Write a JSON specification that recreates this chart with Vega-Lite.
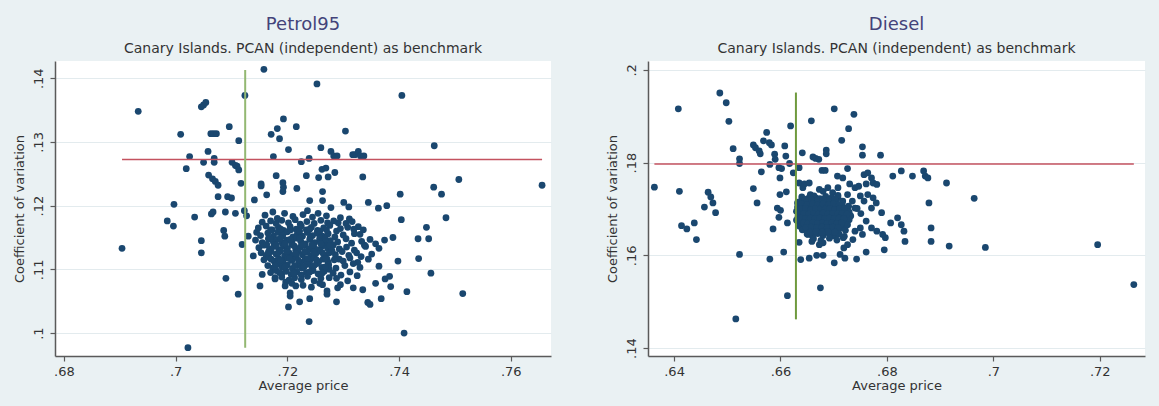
{
  "$schema": "https://vega.github.io/schema/vega-lite/v6.json",
  "background": "#eaf1f3",
  "padding": {"left": 13, "top": 16, "right": 14, "bottom": 14},
  "spacing": 55,
  "config": {
    "view": {"fill": "white", "stroke": null},
    "font": "DejaVu Sans",
    "axis": {"domainColor": "#5a5a5a", "domainWidth": 1.5, "tickColor": "#5a5a5a", "tickSize": 5, "tickWidth": 1.2,
      "labelFont": "DejaVu Sans", "labelFontSize": 13, "labelColor": "#333333", "titleFont": "DejaVu Sans", "titleFontSize": 13,
      "titleFontWeight": "normal", "titleColor": "#333333", "gridColor": "#e3ebee", "gridWidth": 1, "format": "~g", "labelExpr": "substring(datum.label, 1)"},
    "axisX": {"grid": false, "labelPadding": 4, "titlePadding": 1},
    "axisY": {"grid": true, "labelAngle": 270, "labelPadding": 5, "titlePadding": 6},
    "title": {"font": "DejaVu Sans", "fontSize": 18, "fontWeight": "normal", "color": "#43437a", "subtitleFont": "DejaVu Sans", "subtitleFontSize": 14, "subtitleColor": "#333333", "subtitlePadding": 8, "offset": 5, "anchor": "middle"}
  },
  "datasets": {
    "petrol": [
      {"x":0.6904,"y":0.1133},{"x":0.6933,"y":0.1348},{"x":0.6985,"y":0.1176},{"x":0.6997,"y":0.1202},{"x":0.6996,"y":0.1168},{"x":0.7009,"y":0.1312},{"x":0.7019,"y":0.1258},{"x":0.7025,"y":0.1277},{"x":0.7022,"y":0.0977},{"x":0.7034,"y":0.1182},{"x":0.7046,"y":0.1355},{"x":0.7050,"y":0.1358},{"x":0.7054,"y":0.1362},{"x":0.7046,"y":0.1145},{"x":0.7046,"y":0.1126},{"x":0.7050,"y":0.1268},{"x":0.7058,"y":0.1285},{"x":0.7063,"y":0.1313},{"x":0.7068,"y":0.1313},{"x":0.7073,"y":0.1313},{"x":0.7059,"y":0.1248},{"x":0.7069,"y":0.1274},{"x":0.7069,"y":0.1268},{"x":0.7066,"y":0.1242},{"x":0.7071,"y":0.1238},{"x":0.7076,"y":0.1232},{"x":0.7076,"y":0.1214},{"x":0.7064,"y":0.1187},{"x":0.7067,"y":0.1190},{"x":0.7096,"y":0.1324},{"x":0.7093,"y":0.1214},{"x":0.7100,"y":0.1212},{"x":0.7089,"y":0.1190},{"x":0.7086,"y":0.1161},{"x":0.7088,"y":0.1152},{"x":0.7090,"y":0.1086},{"x":0.7113,"y":0.1302},{"x":0.7101,"y":0.1268},{"x":0.7107,"y":0.1263},{"x":0.7110,"y":0.1262},{"x":0.7113,"y":0.1256},{"x":0.7107,"y":0.1188},{"x":0.7117,"y":0.1235},{"x":0.7112,"y":0.1061},{"x":0.7119,"y":0.1139},{"x":0.7123,"y":0.1192},{"x":0.7127,"y":0.1184},{"x":0.7130,"y":0.1152},{"x":0.7124,"y":0.1373},
      {"x":0.7193,"y":0.1336},{"x":0.7182,"y":0.1321},{"x":0.7171,"y":0.1312},{"x":0.7186,"y":0.1305},{"x":0.7216,"y":0.1324},{"x":0.7202,"y":0.1288},{"x":0.7175,"y":0.1277},{"x":0.7225,"y":0.1269},{"x":0.7260,"y":0.1291},{"x":0.7239,"y":0.1274},{"x":0.7278,"y":0.1285},{"x":0.7283,"y":0.1278},{"x":0.7289,"y":0.1278},{"x":0.7304,"y":0.1317},{"x":0.7317,"y":0.1280},{"x":0.7321,"y":0.1280},{"x":0.7327,"y":0.1285},{"x":0.7331,"y":0.1278},{"x":0.7337,"y":0.1278},{"x":0.7234,"y":0.1247},{"x":0.7256,"y":0.1244},{"x":0.7262,"y":0.1257},{"x":0.7269,"y":0.1259},{"x":0.7273,"y":0.1245},{"x":0.7285,"y":0.1252},{"x":0.7180,"y":0.1247},{"x":0.7192,"y":0.1236},{"x":0.7193,"y":0.1229},{"x":0.7192,"y":0.1222},{"x":0.7217,"y":0.1227},{"x":0.7153,"y":0.1234},{"x":0.7153,"y":0.1231},{"x":0.7163,"y":0.1217},{"x":0.7141,"y":0.1209},{"x":0.7263,"y":0.1222},{"x":0.7335,"y":0.1245},{"x":0.7263,"y":0.1208},{"x":0.7240,"y":0.1208},{"x":0.7278,"y":0.1197},{"x":0.7301,"y":0.1205},{"x":0.7310,"y":0.1198},{"x":0.7345,"y":0.1205},{"x":0.7363,"y":0.1196},{"x":0.7378,"y":0.1200},{"x":0.7402,"y":0.1218},{"x":0.7462,"y":0.1229},{"x":0.7476,"y":0.1218},{"x":0.7484,"y":0.1181},{"x":0.7507,"y":0.1241},{"x":0.7463,"y":0.1294},{"x":0.7404,"y":0.1178},{"x":0.7449,"y":0.1166},{"x":0.7434,"y":0.1148},{"x":0.7453,"y":0.1148},{"x":0.7389,"y":0.1150},{"x":0.7374,"y":0.1146},{"x":0.7435,"y":0.1117},{"x":0.7398,"y":0.1113},{"x":0.7457,"y":0.1094},{"x":0.7383,"y":0.1089},{"x":0.7375,"y":0.1085},{"x":0.7385,"y":0.1073},{"x":0.7368,"y":0.1054},{"x":0.7344,"y":0.1048},{"x":0.7348,"y":0.1045},{"x":0.7335,"y":0.1068},{"x":0.7318,"y":0.1071},{"x":0.7358,"y":0.1078},{"x":0.7364,"y":0.1105},{"x":0.7351,"y":0.1124},{"x":0.7338,"y":0.1138},{"x":0.7348,"y":0.1147},{"x":0.7330,"y":0.1155},{"x":0.7311,"y":0.1179},{"x":0.7308,"y":0.1166},{"x":0.7327,"y":0.1167},{"x":0.7291,"y":0.1173},{"x":0.7288,"y":0.1160},{"x":0.7293,"y":0.1116},{"x":0.7271,"y":0.1116},{"x":0.7275,"y":0.1087},{"x":0.7275,"y":0.1100},{"x":0.7258,"y":0.1078},{"x":0.7271,"y":0.1066},{"x":0.7271,"y":0.1061},{"x":0.7288,"y":0.1049},{"x":0.7290,"y":0.1071},{"x":0.7222,"y":0.1049},{"x":0.7240,"y":0.1054},{"x":0.7202,"y":0.1041},{"x":0.7205,"y":0.1058},{"x":0.7205,"y":0.1063},{"x":0.7215,"y":0.1074},{"x":0.7197,"y":0.1080},{"x":0.7178,"y":0.1087},{"x":0.7151,"y":0.1074},{"x":0.7155,"y":0.1092},{"x":0.7139,"y":0.1121},{"x":0.7145,"y":0.1158},{"x":0.7514,"y":0.1062},{"x":0.7414,"y":0.1065},{"x":0.7239,"y":0.1018},{"x":0.7409,"y":0.1000},{"x":0.7656,"y":0.1232},{"x":0.7158,"y":0.1414},{"x":0.7253,"y":0.1391},{"x":0.7405,"y":0.1373},
      {"x":0.7160,"y":0.1185},{"x":0.7182,"y":0.1180},{"x":0.7195,"y":0.1188},{"x":0.7210,"y":0.1183},{"x":0.7228,"y":0.1186},{"x":0.7245,"y":0.1182},{"x":0.7255,"y":0.1188},{"x":0.7270,"y":0.1184},{"x":0.7295,"y":0.1181},{"x":0.7174,"y":0.1190},{"x":0.7236,"y":0.1192},
      {"x":0.7155,"y":0.1174},{"x":0.7170,"y":0.1176},{"x":0.7180,"y":0.1172},{"x":0.7190,"y":0.1177},{"x":0.7202,"y":0.1173},{"x":0.7214,"y":0.1178},{"x":0.7223,"y":0.1171},{"x":0.7235,"y":0.1175},{"x":0.7248,"y":0.1172},{"x":0.7260,"y":0.1177},{"x":0.7272,"y":0.1173},{"x":0.7283,"y":0.1176},{"x":0.7305,"y":0.1172},{"x":0.7316,"y":0.1175},
      {"x":0.7148,"y":0.1165},{"x":0.7162,"y":0.1168},{"x":0.7173,"y":0.1162},{"x":0.7184,"y":0.1166},{"x":0.7193,"y":0.1161},{"x":0.7205,"y":0.1167},{"x":0.7216,"y":0.1163},{"x":0.7225,"y":0.1168},{"x":0.7234,"y":0.1162},{"x":0.7243,"y":0.1166},{"x":0.7254,"y":0.1161},{"x":0.7265,"y":0.1165},{"x":0.7276,"y":0.1169},{"x":0.7295,"y":0.1164},{"x":0.7319,"y":0.1163},{"x":0.7336,"y":0.1162},
      {"x":0.7152,"y":0.1153},{"x":0.7165,"y":0.1157},{"x":0.7175,"y":0.1152},{"x":0.7183,"y":0.1158},{"x":0.7192,"y":0.1154},{"x":0.7200,"y":0.1159},{"x":0.7210,"y":0.1151},{"x":0.7218,"y":0.1156},{"x":0.7227,"y":0.1152},{"x":0.7236,"y":0.1158},{"x":0.7245,"y":0.1153},{"x":0.7253,"y":0.1157},{"x":0.7263,"y":0.1152},{"x":0.7273,"y":0.1156},{"x":0.7285,"y":0.1151},{"x":0.7300,"y":0.1154},{"x":0.7320,"y":0.1156},
      {"x":0.7143,"y":0.1146},{"x":0.7155,"y":0.1142},{"x":0.7166,"y":0.1148},{"x":0.7175,"y":0.1143},{"x":0.7184,"y":0.1147},{"x":0.7191,"y":0.1141},{"x":0.7199,"y":0.1146},{"x":0.7208,"y":0.1142},{"x":0.7216,"y":0.1149},{"x":0.7224,"y":0.1144},{"x":0.7232,"y":0.1140},{"x":0.7240,"y":0.1147},{"x":0.7249,"y":0.1142},{"x":0.7258,"y":0.1146},{"x":0.7267,"y":0.1141},{"x":0.7277,"y":0.1145},{"x":0.7290,"y":0.1143},{"x":0.7305,"y":0.1148},{"x":0.7315,"y":0.1141},{"x":0.7333,"y":0.1144},{"x":0.7358,"y":0.1140},
      {"x":0.7149,"y":0.1134},{"x":0.7158,"y":0.1138},{"x":0.7168,"y":0.1132},{"x":0.7176,"y":0.1136},{"x":0.7185,"y":0.1131},{"x":0.7193,"y":0.1137},{"x":0.7200,"y":0.1133},{"x":0.7208,"y":0.1139},{"x":0.7215,"y":0.1130},{"x":0.7223,"y":0.1135},{"x":0.7231,"y":0.1138},{"x":0.7239,"y":0.1132},{"x":0.7247,"y":0.1136},{"x":0.7255,"y":0.1131},{"x":0.7263,"y":0.1137},{"x":0.7272,"y":0.1133},{"x":0.7282,"y":0.1138},{"x":0.7293,"y":0.1132},{"x":0.7306,"y":0.1135},{"x":0.7320,"y":0.1130},{"x":0.7340,"y":0.1136},{"x":0.7364,"y":0.1133},
      {"x":0.7153,"y":0.1126},{"x":0.7162,"y":0.1122},{"x":0.7171,"y":0.1128},{"x":0.7180,"y":0.1124},{"x":0.7188,"y":0.1129},{"x":0.7195,"y":0.1121},{"x":0.7203,"y":0.1126},{"x":0.7211,"y":0.1122},{"x":0.7219,"y":0.1128},{"x":0.7227,"y":0.1123},{"x":0.7235,"y":0.1127},{"x":0.7243,"y":0.1121},{"x":0.7251,"y":0.1125},{"x":0.7259,"y":0.1129},{"x":0.7267,"y":0.1122},{"x":0.7275,"y":0.1126},{"x":0.7286,"y":0.1123},{"x":0.7298,"y":0.1128},{"x":0.7310,"y":0.1122},{"x":0.7324,"y":0.1126},{"x":0.7332,"y":0.1120},
      {"x":0.7158,"y":0.1115},{"x":0.7167,"y":0.1119},{"x":0.7176,"y":0.1113},{"x":0.7184,"y":0.1117},{"x":0.7192,"y":0.1112},{"x":0.7200,"y":0.1118},{"x":0.7208,"y":0.1114},{"x":0.7216,"y":0.1119},{"x":0.7224,"y":0.1111},{"x":0.7232,"y":0.1116},{"x":0.7240,"y":0.1113},{"x":0.7248,"y":0.1118},{"x":0.7256,"y":0.1112},{"x":0.7264,"y":0.1116},{"x":0.7273,"y":0.1111},{"x":0.7284,"y":0.1115},{"x":0.7300,"y":0.1113},{"x":0.7312,"y":0.1118},{"x":0.7326,"y":0.1111},{"x":0.7345,"y":0.1116},
      {"x":0.7165,"y":0.1106},{"x":0.7174,"y":0.1102},{"x":0.7183,"y":0.1108},{"x":0.7191,"y":0.1103},{"x":0.7200,"y":0.1107},{"x":0.7209,"y":0.1101},{"x":0.7218,"y":0.1106},{"x":0.7226,"y":0.1102},{"x":0.7235,"y":0.1108},{"x":0.7244,"y":0.1104},{"x":0.7253,"y":0.1109},{"x":0.7262,"y":0.1103},{"x":0.7274,"y":0.1107},{"x":0.7287,"y":0.1102},{"x":0.7303,"y":0.1106},{"x":0.7318,"y":0.1109},{"x":0.7330,"y":0.1103},
      {"x":0.7170,"y":0.1095},{"x":0.7180,"y":0.1098},{"x":0.7190,"y":0.1093},{"x":0.7198,"y":0.1097},{"x":0.7207,"y":0.1092},{"x":0.7217,"y":0.1096},{"x":0.7225,"y":0.1091},{"x":0.7234,"y":0.1095},{"x":0.7246,"y":0.1098},{"x":0.7255,"y":0.1093},{"x":0.7266,"y":0.1097},{"x":0.7282,"y":0.1094},{"x":0.7296,"y":0.1091},{"x":0.7312,"y":0.1096},{"x":0.7325,"y":0.1090},
      {"x":0.7178,"y":0.1085},{"x":0.7190,"y":0.1088},{"x":0.7203,"y":0.1083},{"x":0.7213,"y":0.1087},{"x":0.7225,"y":0.1084},{"x":0.7236,"y":0.1089},{"x":0.7248,"y":0.1082},{"x":0.7260,"y":0.1086},{"x":0.7288,"y":0.1086},{"x":0.7308,"y":0.1082},
      {"x":0.7196,"y":0.1074},{"x":0.7208,"y":0.1078},{"x":0.7228,"y":0.1075},{"x":0.7243,"y":0.1072},{"x":0.7263,"y":0.1076},{"x":0.7295,"y":0.1076},
      {"x":0.7170,"y":0.1162},{"x":0.7188,"y":0.1163},{"x":0.7206,"y":0.1162},{"x":0.7222,"y":0.1160},{"x":0.7240,"y":0.1163},{"x":0.7258,"y":0.1160},{"x":0.7270,"y":0.1162},
      {"x":0.7170,"y":0.1148},{"x":0.7188,"y":0.1149},{"x":0.7205,"y":0.1147},{"x":0.7222,"y":0.1149},{"x":0.7241,"y":0.1150},{"x":0.7258,"y":0.1149},{"x":0.7268,"y":0.1148},
      {"x":0.7163,"y":0.1139},{"x":0.7180,"y":0.1138},{"x":0.7196,"y":0.1140},{"x":0.7212,"y":0.1137},{"x":0.7228,"y":0.1139},{"x":0.7244,"y":0.1138},{"x":0.7260,"y":0.1140},{"x":0.7276,"y":0.1137},
      {"x":0.7166,"y":0.1127},{"x":0.7184,"y":0.1126},{"x":0.7199,"y":0.1128},{"x":0.7215,"y":0.1125},{"x":0.7231,"y":0.1128},{"x":0.7247,"y":0.1127},{"x":0.7263,"y":0.1126},{"x":0.7280,"y":0.1129},
      {"x":0.7171,"y":0.1116},{"x":0.7188,"y":0.1115},{"x":0.7204,"y":0.1117},{"x":0.7220,"y":0.1114},{"x":0.7236,"y":0.1117},{"x":0.7252,"y":0.1115},{"x":0.7268,"y":0.1117},
      {"x":0.7178,"y":0.1105},{"x":0.7196,"y":0.1104},{"x":0.7213,"y":0.1106},{"x":0.7230,"y":0.1104},{"x":0.7248,"y":0.1106},{"x":0.7268,"y":0.1104},
      {"x":0.7186,"y":0.1095},{"x":0.7212,"y":0.1094},{"x":0.7240,"y":0.1096},{"x":0.7262,"y":0.1094}
    ],
    "petrolH": [{"x":0.6904,"x2":0.7656,"y":0.12725}],
    "petrolV": [{"x":0.71245,"y":0.0977,"y2":0.1413}],
    "diesel": [
      {"x":0.6363,"y":0.1747},{"x":0.6408,"y":0.1916},{"x":0.6410,"y":0.1738},{"x":0.6414,"y":0.1664},{"x":0.6424,"y":0.1657},{"x":0.6438,"y":0.1670},{"x":0.6442,"y":0.1634},{"x":0.6457,"y":0.1704},{"x":0.6464,"y":0.1736},{"x":0.6469,"y":0.1726},{"x":0.6473,"y":0.1713},{"x":0.6478,"y":0.1692},{"x":0.6486,"y":0.1950},{"x":0.6498,"y":0.1929},{"x":0.6503,"y":0.1889},{"x":0.6511,"y":0.1830},{"x":0.6523,"y":0.1808},{"x":0.6523,"y":0.1798},{"x":0.6516,"y":0.1463},{"x":0.6523,"y":0.1602},{"x":0.6549,"y":0.1838},{"x":0.6553,"y":0.1832},{"x":0.6549,"y":0.1744},{"x":0.6556,"y":0.1713},{"x":0.6560,"y":0.1825},{"x":0.6562,"y":0.1819},{"x":0.6564,"y":0.1780},{"x":0.6568,"y":0.1847},{"x":0.6574,"y":0.1865},{"x":0.6583,"y":0.1838},{"x":0.6579,"y":0.1843},{"x":0.6580,"y":0.1796},{"x":0.6586,"y":0.1657},{"x":0.6580,"y":0.1592},{"x":0.6589,"y":0.1818},{"x":0.6590,"y":0.1807},{"x":0.6597,"y":0.1789},{"x":0.6602,"y":0.1787},{"x":0.6599,"y":0.1767},{"x":0.6594,"y":0.1702},{"x":0.6600,"y":0.1697},{"x":0.6597,"y":0.1682},{"x":0.6599,"y":0.1731},{"x":0.6608,"y":0.1836},{"x":0.6610,"y":0.1814},{"x":0.6606,"y":0.1607},{"x":0.6611,"y":0.1737},{"x":0.6613,"y":0.1670},{"x":0.6613,"y":0.1513},{"x":0.6617,"y":0.1798},{"x":0.6619,"y":0.1879},{"x":0.6624,"y":0.1778},{"x":0.6635,"y":0.1789},{"x":0.6632,"y":0.1713},{"x":0.6635,"y":0.1628},{"x":0.6638,"y":0.1591},{"x":0.6641,"y":0.1821},{"x":0.6635,"y":0.1756},{"x":0.6642,"y":0.1746},{"x":0.6645,"y":0.1754},{"x":0.6654,"y":0.1756},{"x":0.6658,"y":0.1890},{"x":0.6654,"y":0.1594},{"x":0.6661,"y":0.1812},{"x":0.6666,"y":0.1809},{"x":0.6672,"y":0.1807},{"x":0.6675,"y":0.1530},{"x":0.6668,"y":0.1600},{"x":0.6680,"y":0.1600},{"x":0.6678,"y":0.1783},{"x":0.6684,"y":0.1783},{"x":0.6686,"y":0.1827},{"x":0.6686,"y":0.1819},{"x":0.6701,"y":0.1916},{"x":0.6715,"y":0.1848},{"x":0.6728,"y":0.1873},{"x":0.6738,"y":0.1904},{"x":0.6726,"y":0.1787},{"x":0.6707,"y":0.1771},{"x":0.6717,"y":0.1767},{"x":0.6730,"y":0.1754},{"x":0.6740,"y":0.1746},{"x":0.6747,"y":0.1749},{"x":0.6754,"y":0.1834},{"x":0.6754,"y":0.1816},{"x":0.6757,"y":0.1774},{"x":0.6764,"y":0.1778},{"x":0.6771,"y":0.1767},{"x":0.6761,"y":0.1754},{"x":0.6774,"y":0.1756},{"x":0.6781,"y":0.1753},{"x":0.6750,"y":0.1728},{"x":0.6764,"y":0.1731},{"x":0.6774,"y":0.1724},{"x":0.6757,"y":0.1717},{"x":0.6780,"y":0.1713},{"x":0.6771,"y":0.1702},{"x":0.6790,"y":0.1692},{"x":0.6744,"y":0.1701},{"x":0.6751,"y":0.1690},{"x":0.6788,"y":0.1816},{"x":0.6811,"y":0.1771},{"x":0.6827,"y":0.1782},{"x":0.6848,"y":0.1771},{"x":0.6869,"y":0.1782},{"x":0.6872,"y":0.1771},{"x":0.6877,"y":0.1767},{"x":0.6912,"y":0.1756},{"x":0.6964,"y":0.1723},{"x":0.6879,"y":0.1713},{"x":0.6807,"y":0.1670},{"x":0.6820,"y":0.1681},{"x":0.6827,"y":0.1666},{"x":0.6832,"y":0.1652},{"x":0.6834,"y":0.1630},{"x":0.6883,"y":0.1659},{"x":0.6883,"y":0.1630},{"x":0.6917,"y":0.1620},{"x":0.6985,"y":0.1617},{"x":0.7196,"y":0.1623},{"x":0.7264,"y":0.1537},{"x":0.6795,"y":0.1612},{"x":0.6797,"y":0.1638},{"x":0.6792,"y":0.1645},{"x":0.6781,"y":0.1652},{"x":0.6771,"y":0.1659},{"x":0.6761,"y":0.1607},{"x":0.6743,"y":0.1592},{"x":0.6721,"y":0.1594},{"x":0.6701,"y":0.1584},{"x":0.6712,"y":0.1602},{"x":0.6726,"y":0.1623},{"x":0.6719,"y":0.1616},{"x":0.6736,"y":0.1634},{"x":0.6750,"y":0.1659},{"x":0.6761,"y":0.1674},{"x":0.6754,"y":0.1645},{"x":0.6740,"y":0.1652},{"x":0.6632,"y":0.1674},{"x":0.6638,"y":0.1666},{"x":0.6652,"y":0.1645},{"x":0.6659,"y":0.1630},{"x":0.6673,"y":0.1623},{"x":0.6680,"y":0.1627},{"x":0.6673,"y":0.1742},{"x":0.6680,"y":0.1738},{"x":0.6689,"y":0.1746},{"x":0.6698,"y":0.1735},{"x":0.6708,"y":0.1746},{"x":0.6708,"y":0.1724},{"x":0.6717,"y":0.1717},{"x":0.6726,"y":0.1731},{"x":0.6735,"y":0.1717},{"x":0.6740,"y":0.1702},{"x":0.6728,"y":0.1706},{"x":0.6649,"y":0.1720},{"x":0.6656,"y":0.1731},{"x":0.6666,"y":0.1724},
      {"x":0.6640,"y":0.1726},{"x":0.6652,"y":0.1723},{"x":0.6663,"y":0.1728},{"x":0.6674,"y":0.1722},{"x":0.6685,"y":0.1727},{"x":0.6696,"y":0.1724},{"x":0.6708,"y":0.1729},
      {"x":0.6635,"y":0.1715},{"x":0.6645,"y":0.1718},{"x":0.6655,"y":0.1712},{"x":0.6665,"y":0.1717},{"x":0.6675,"y":0.1713},{"x":0.6685,"y":0.1718},{"x":0.6695,"y":0.1712},{"x":0.6705,"y":0.1716},{"x":0.6716,"y":0.1711},
      {"x":0.6632,"y":0.1704},{"x":0.6642,"y":0.1708},{"x":0.6652,"y":0.1703},{"x":0.6661,"y":0.1707},{"x":0.6670,"y":0.1702},{"x":0.6679,"y":0.1708},{"x":0.6688,"y":0.1704},{"x":0.6697,"y":0.1709},{"x":0.6706,"y":0.1703},{"x":0.6715,"y":0.1707},{"x":0.6725,"y":0.1702},
      {"x":0.6630,"y":0.1695},{"x":0.6639,"y":0.1691},{"x":0.6648,"y":0.1696},{"x":0.6657,"y":0.1692},{"x":0.6666,"y":0.1698},{"x":0.6674,"y":0.1693},{"x":0.6683,"y":0.1697},{"x":0.6692,"y":0.1691},{"x":0.6701,"y":0.1695},{"x":0.6710,"y":0.1692},{"x":0.6719,"y":0.1697},{"x":0.6729,"y":0.1693},
      {"x":0.6633,"y":0.1684},{"x":0.6642,"y":0.1688},{"x":0.6651,"y":0.1682},{"x":0.6660,"y":0.1686},{"x":0.6669,"y":0.1681},{"x":0.6678,"y":0.1687},{"x":0.6687,"y":0.1683},{"x":0.6696,"y":0.1688},{"x":0.6705,"y":0.1682},{"x":0.6714,"y":0.1686},{"x":0.6723,"y":0.1681},{"x":0.6732,"y":0.1685},
      {"x":0.6630,"y":0.1676},{"x":0.6639,"y":0.1672},{"x":0.6648,"y":0.1677},{"x":0.6657,"y":0.1673},{"x":0.6666,"y":0.1678},{"x":0.6675,"y":0.1672},{"x":0.6684,"y":0.1676},{"x":0.6693,"y":0.1671},{"x":0.6702,"y":0.1675},{"x":0.6711,"y":0.1679},{"x":0.6720,"y":0.1673},{"x":0.6729,"y":0.1677},
      {"x":0.6636,"y":0.1663},{"x":0.6645,"y":0.1668},{"x":0.6654,"y":0.1662},{"x":0.6663,"y":0.1667},{"x":0.6672,"y":0.1661},{"x":0.6681,"y":0.1665},{"x":0.6690,"y":0.1669},{"x":0.6699,"y":0.1663},{"x":0.6708,"y":0.1667},{"x":0.6717,"y":0.1662},{"x":0.6726,"y":0.1666},
      {"x":0.6641,"y":0.1655},{"x":0.6650,"y":0.1659},{"x":0.6659,"y":0.1654},{"x":0.6668,"y":0.1658},{"x":0.6677,"y":0.1652},{"x":0.6686,"y":0.1656},{"x":0.6695,"y":0.1651},{"x":0.6704,"y":0.1655},{"x":0.6713,"y":0.1659},{"x":0.6722,"y":0.1654},
      {"x":0.6650,"y":0.1646},{"x":0.6660,"y":0.1642},{"x":0.6670,"y":0.1647},{"x":0.6680,"y":0.1643},{"x":0.6690,"y":0.1648},{"x":0.6700,"y":0.1642},{"x":0.6710,"y":0.1646},{"x":0.6720,"y":0.1641},
      {"x":0.6662,"y":0.1636},{"x":0.6676,"y":0.1632},{"x":0.6692,"y":0.1637},{"x":0.6706,"y":0.1633},{"x":0.6718,"y":0.1638},
      {"x":0.6646,"y":0.1720},{"x":0.6658,"y":0.1720},{"x":0.6670,"y":0.1719},{"x":0.6680,"y":0.1721},{"x":0.6692,"y":0.1719},{"x":0.6702,"y":0.1721},
      {"x":0.6640,"y":0.1711},{"x":0.6650,"y":0.1709},{"x":0.6660,"y":0.1711},{"x":0.6670,"y":0.1709},{"x":0.6680,"y":0.1711},{"x":0.6690,"y":0.1709},{"x":0.6700,"y":0.1711},{"x":0.6710,"y":0.1709},
      {"x":0.6637,"y":0.1700},{"x":0.6647,"y":0.1701},{"x":0.6657,"y":0.1699},{"x":0.6666,"y":0.1701},{"x":0.6675,"y":0.1699},{"x":0.6684,"y":0.1700},{"x":0.6693,"y":0.1701},{"x":0.6702,"y":0.1699},{"x":0.6711,"y":0.1700},{"x":0.6720,"y":0.1701},
      {"x":0.6635,"y":0.1689},{"x":0.6644,"y":0.1690},{"x":0.6653,"y":0.1689},{"x":0.6662,"y":0.1690},{"x":0.6671,"y":0.1689},{"x":0.6680,"y":0.1691},{"x":0.6689,"y":0.1689},{"x":0.6698,"y":0.1690},{"x":0.6707,"y":0.1689},{"x":0.6716,"y":0.1690},{"x":0.6725,"y":0.1689},
      {"x":0.6638,"y":0.1680},{"x":0.6647,"y":0.1679},{"x":0.6656,"y":0.1680},{"x":0.6665,"y":0.1679},{"x":0.6674,"y":0.1680},{"x":0.6683,"y":0.1679},{"x":0.6692,"y":0.1680},{"x":0.6701,"y":0.1679},{"x":0.6710,"y":0.1680},{"x":0.6719,"y":0.1679},
      {"x":0.6643,"y":0.1670},{"x":0.6652,"y":0.1669},{"x":0.6661,"y":0.1670},{"x":0.6670,"y":0.1669},{"x":0.6679,"y":0.1670},{"x":0.6688,"y":0.1669},{"x":0.6697,"y":0.1670},{"x":0.6706,"y":0.1669},{"x":0.6715,"y":0.1670},
      {"x":0.6648,"y":0.1660},{"x":0.6658,"y":0.1661},{"x":0.6668,"y":0.1660},{"x":0.6678,"y":0.1661},{"x":0.6688,"y":0.1660},{"x":0.6698,"y":0.1661},{"x":0.6708,"y":0.1660},
      {"x":0.6656,"y":0.1650},{"x":0.6667,"y":0.1651},{"x":0.6678,"y":0.1650},{"x":0.6690,"y":0.1651},{"x":0.6702,"y":0.1650}
    ],
    "dieselH": [{"x":0.6363,"x2":0.7264,"y":0.1797}],
    "dieselV": [{"x":0.6629,"y":0.1462,"y2":0.1951}]
  },
  "hconcat": [
    {
      "width": 496, "height": 295,
      "title": {"text": "Petrol95", "subtitle": "Canary Islands. PCAN (independent) as benchmark"},
      "layer": [
        {"data": {"name": "petrol"}, "mark": {"type": "circle", "size": 46, "color": "#1a476f", "opacity": 1},
         "encoding": {
           "x": {"field": "x", "type": "quantitative", "scale": {"domain": [0.6784, 0.7672], "nice": false, "zero": false}, "axis": {"title": "Average price", "values": [0.68, 0.7, 0.72, 0.74, 0.76]}},
           "y": {"field": "y", "type": "quantitative", "scale": {"domain": [0.0964, 0.1427], "nice": false, "zero": false}, "axis": {"title": "Coefficient of variation", "values": [0.1, 0.11, 0.12, 0.13, 0.14]}}
         }},
        {"data": {"name": "petrolH"}, "mark": {"type": "rule", "color": "#c4525f", "strokeWidth": 1.5},
         "encoding": {"x": {"field": "x", "type": "quantitative"}, "x2": {"field": "x2"}, "y": {"field": "y", "type": "quantitative"}}},
        {"data": {"name": "petrolV"}, "mark": {"type": "rule", "color": "#93b872", "strokeWidth": 2},
         "encoding": {"x": {"field": "x", "type": "quantitative"}, "y": {"field": "y", "type": "quantitative"}, "y2": {"field": "y2"}}}
      ]
    },
    {
      "width": 497, "height": 295,
      "title": {"text": "Diesel", "subtitle": "Canary Islands. PCAN (independent) as benchmark"},
      "layer": [
        {"data": {"name": "diesel"}, "mark": {"type": "circle", "size": 46, "color": "#1a476f", "opacity": 1},
         "encoding": {
           "x": {"field": "x", "type": "quantitative", "scale": {"domain": [0.6351, 0.7285], "nice": false, "zero": false}, "axis": {"title": "Average price", "values": [0.64, 0.66, 0.68, 0.7, 0.72]}},
           "y": {"field": "y", "type": "quantitative", "scale": {"domain": [0.1383, 0.2019], "nice": false, "zero": false}, "axis": {"title": "Coefficient of variation", "values": [0.14, 0.16, 0.18, 0.2]}}
         }},
        {"data": {"name": "dieselH"}, "mark": {"type": "rule", "color": "#c4525f", "strokeWidth": 1.5},
         "encoding": {"x": {"field": "x", "type": "quantitative"}, "x2": {"field": "x2"}, "y": {"field": "y", "type": "quantitative"}}},
        {"data": {"name": "dieselV"}, "mark": {"type": "rule", "color": "#6f9a3e", "strokeWidth": 2},
         "encoding": {"x": {"field": "x", "type": "quantitative"}, "y": {"field": "y", "type": "quantitative"}, "y2": {"field": "y2"}}}
      ]
    }
  ]
}
